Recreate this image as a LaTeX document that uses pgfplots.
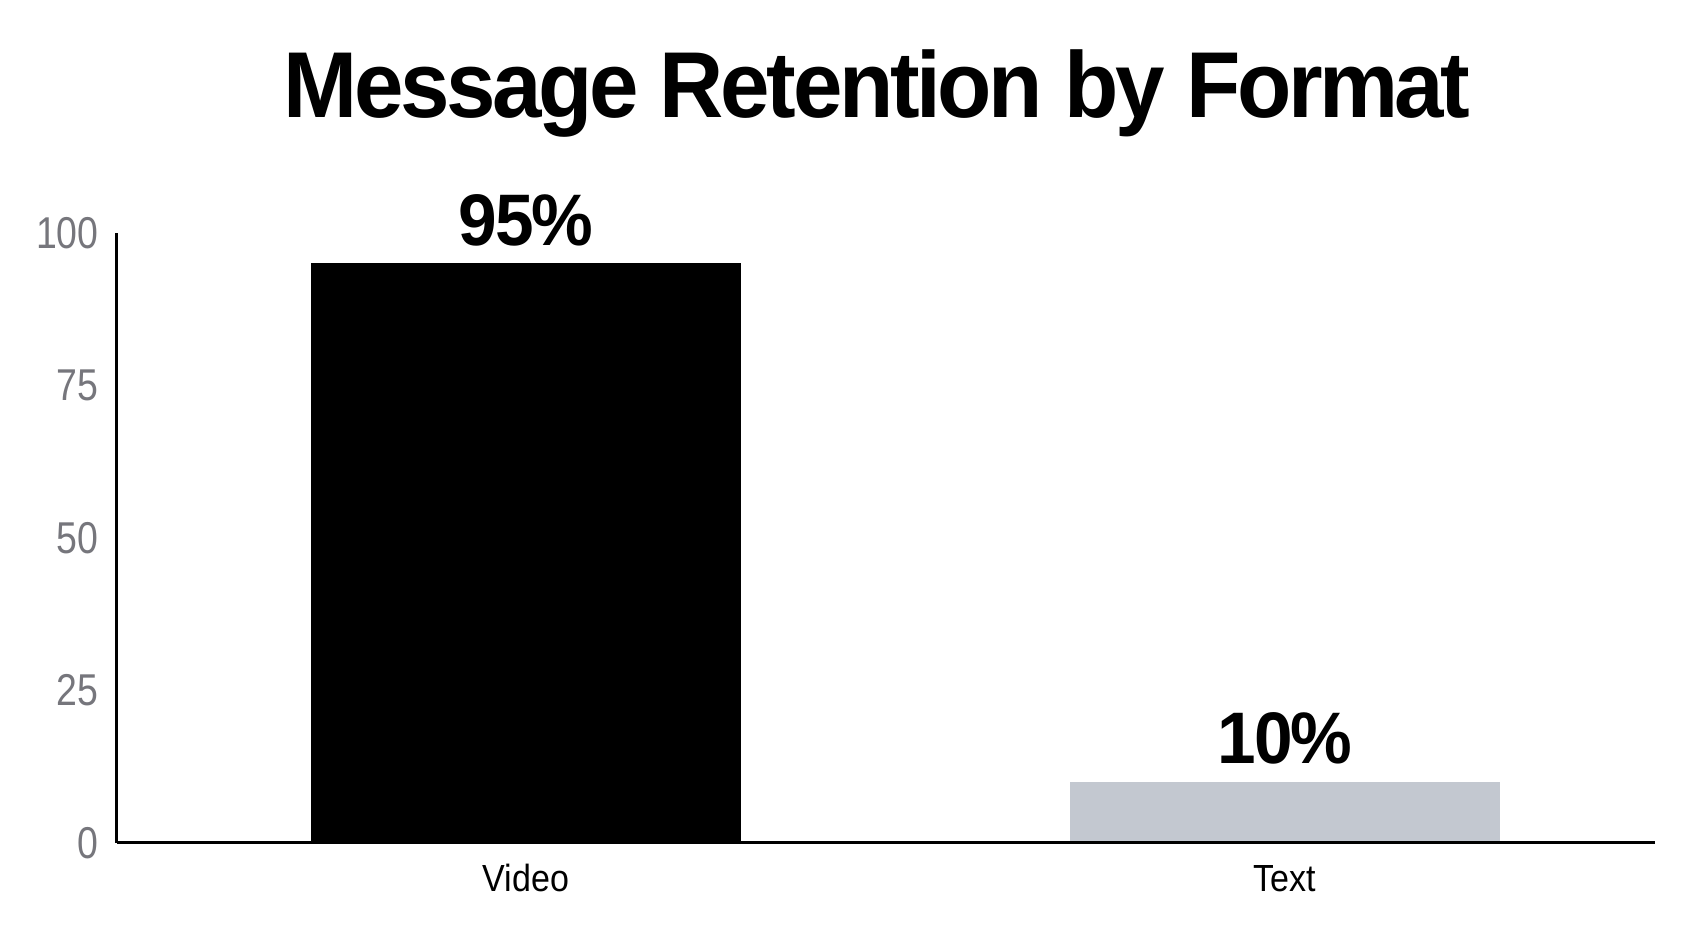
\documentclass[border=0pt]{standalone}
\usepackage{pgfplots}
\pgfplotsset{compat=1.18}
\usepackage{fontspec}
\setmainfont{Liberation Sans}
\newfontfamily\tightbold[LetterSpace=-3.8]{Liberation Sans Bold}
\newfontfamily\tightboldb[LetterSpace=-3]{Liberation Sans Bold}
\definecolor{tickgray}{RGB}{118,118,124}
\definecolor{textbar}{RGB}{195,200,208}
\begin{document}
\begin{tikzpicture}
\useasboundingbox (0,0) rectangle (846.5pt,464.5pt);
\begin{axis}[
  at={(58.5pt,43pt)}, anchor=south west,
  scale only axis,
  width=769pt, height=305pt,
  xmin=-0.539, xmax=1.4875,
  ymin=0, ymax=100,
  axis x line=bottom, axis y line=left,
  axis line style={-, line width=1.5pt, black},
  major tick length=0pt,
  xtick={0,1}, xticklabels={Video,Text},
  ytick={0,25,50,75,100},
  yticklabel={\scalebox{0.84}[1]{\pgfmathprintnumber[assume math mode=true]{\tick}}},
  yticklabel style={font=\fontsize{22.3}{26}\selectfont, text=tickgray, anchor=east, inner sep=0pt, xshift=-9pt},
  xticklabel style={font=\fontsize{18.9}{22}\selectfont\addfontfeatures{FakeStretch=0.9}, text=black, anchor=base, inner sep=0pt, yshift=-24.5pt},
  ybar, bar width=215pt,
  clip=false,
  axis on top,
  nodes near coords={\scalebox{0.95}[1]{\pgfmathprintnumber[assume math mode=true]{\pgfplotspointmeta}\%}},
  every node near coord/.append style={font=\fontsize{36.5}{40}\tightboldb, text=black, anchor=base, inner sep=0pt, yshift=9pt},
]
\addplot[fill=black, draw=none, bar shift=0pt] coordinates {(0,95)};
\addplot[fill=textbar, draw=none, bar shift=0pt] coordinates {(1,10)};
\end{axis}
\node[anchor=base, inner sep=0pt, font=\fontsize{46.8}{52}\tightbold] at (438.5pt,405.5pt) {\scalebox{0.95}[1]{Message Retention by Format}};
\end{tikzpicture}
\end{document}
